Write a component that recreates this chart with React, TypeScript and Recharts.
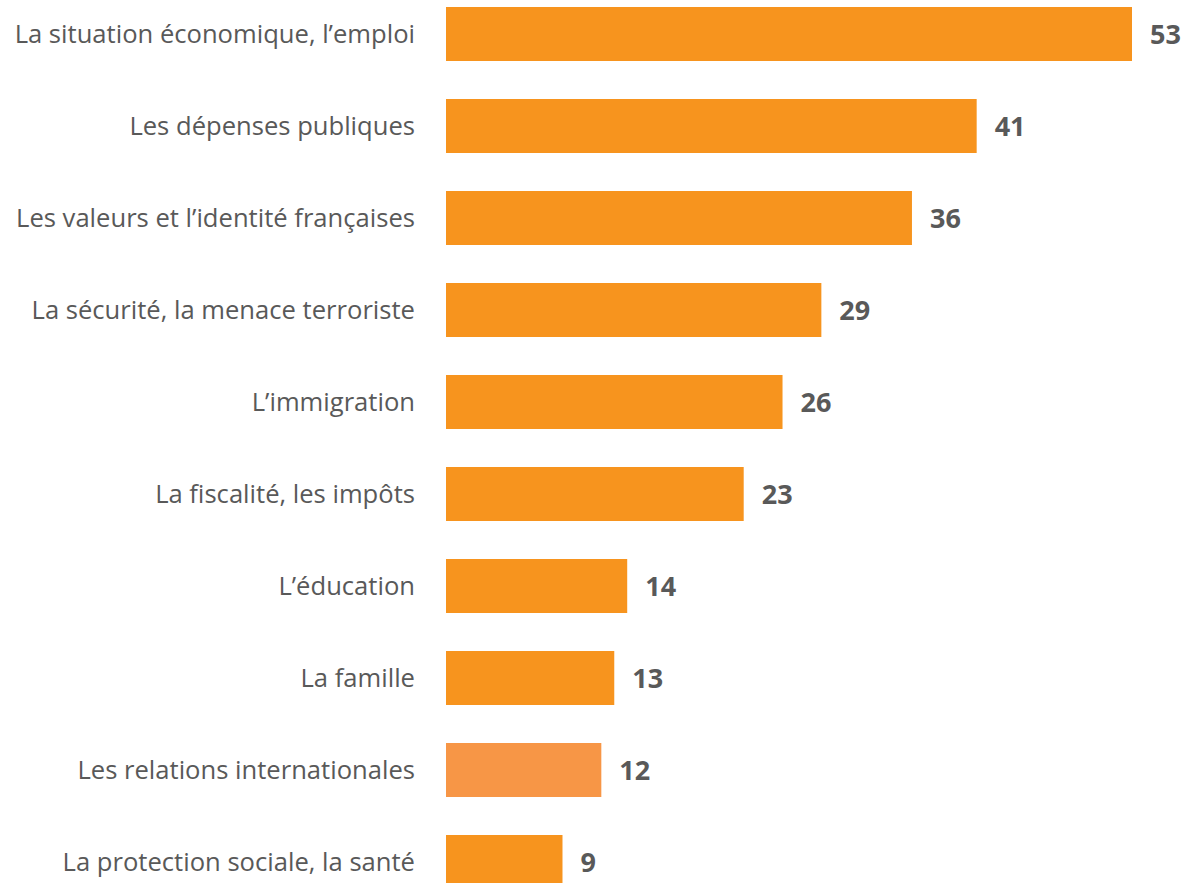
import React from "react";
import { BarChart, Bar, XAxis, YAxis, Cell, LabelList } from "recharts";

const categories = [
  "La situation économique, l’emploi",
  "Les dépenses publiques",
  "Les valeurs et l’identité françaises",
  "La sécurité, la menace terroriste",
  "L’immigration",
  "La fiscalité, les impôts",
  "L’éducation",
  "La famille",
  "Les relations internationales",
  "La protection sociale, la santé",
];

const values = [53, 41, 36, 29, 26, 23, 14, 13, 12, 9];

const barColors = [
  "#F7941E",
  "#F7941E",
  "#F7941E",
  "#F7941E",
  "#F7941E",
  "#F7941E",
  "#F7941E",
  "#F7941E",
  "#F79646",
  "#F7941E",
];

const data = categories.map((name, i) => ({ name, value: values[i] }));

const FONT = "'Open Sans', sans-serif";

export default function App() {
  return (
    <div
      style={{
        position: "absolute",
        left: 0,
        top: 0,
        width: 1185,
        height: 883,
        overflow: "hidden",
        background: "#fff",
      }}>
      <div style={{ position: "absolute", left: 0, top: -12 }}>
        <BarChart
          width={1185}
          height={920}
          data={data}
          layout="vertical"
          margin={{ top: 0, right: 53, bottom: 0, left: 0 }}
          barSize={54}>
          <XAxis type="number" domain={[0, 53]} hide />
          <YAxis
            type="category"
            dataKey="name"
            width={446}
            axisLine={false}
            tickLine={false}
            tickSize={0}
            tickMargin={31}
            interval={0}
            tick={{ fill: "#595959", fontSize: 25.6, fontFamily: FONT }}
          />
          <Bar dataKey="value" isAnimationActive={false}>
            {data.map((d, i) => (
              <Cell key={d.name} fill={barColors[i]} />
            ))}
            <LabelList
              dataKey="value"
              position="right"
              offset={18}
              fill="#595959"
              fontSize={27}
              fontWeight="bold"
              fontFamily={FONT}
            />
          </Bar>
        </BarChart>
      </div>
    </div>
  );
}
